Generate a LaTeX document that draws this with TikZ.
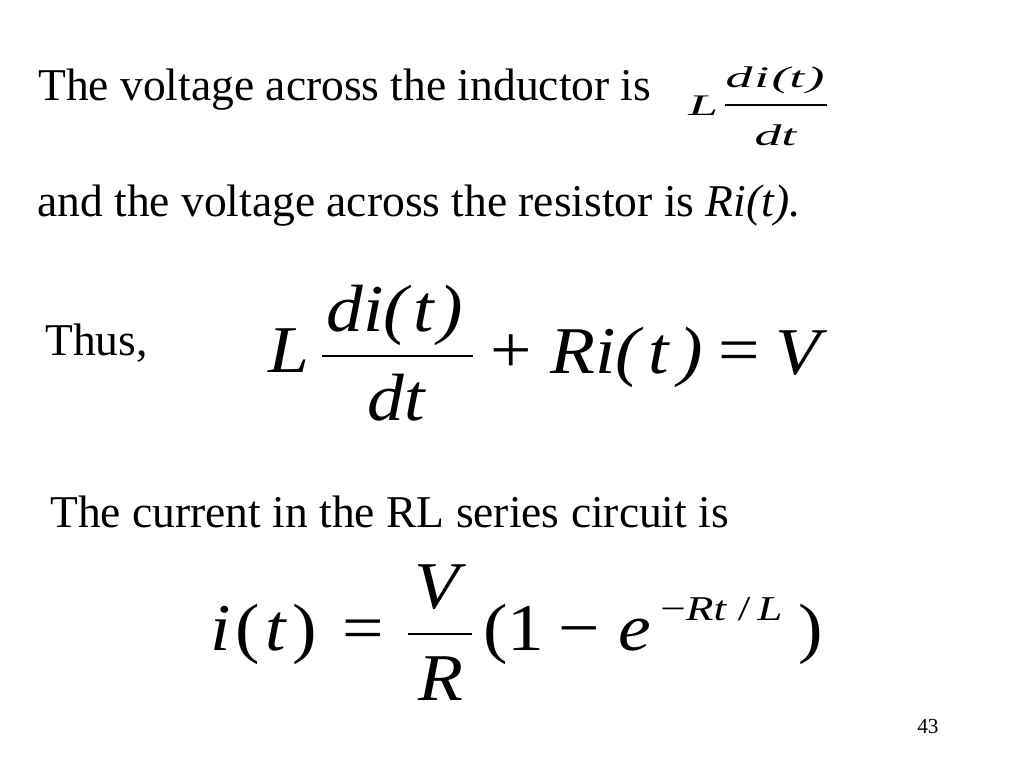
\documentclass[tikz,border=0pt]{standalone}
\usepackage{fontspec}
\setmainfont{Liberation Serif}
\usepackage{graphicx}
\newcommand{\smalleq}[1]{\scalebox{1.8}[1]{#1}}
\newcommand{\bigeq}[1]{\scalebox{1.1}[1]{#1}}
\newcommand{\supeq}[1]{\scalebox{1.3}[1]{#1}}

\begin{document}
\begin{tikzpicture}[x=0.703125pt, y=-0.703125pt,
		txt/.style={anchor=base west, inner sep=0pt, font=\fontsize{32}{38}\selectfont},
		eqn/.style={anchor=base west, inner sep=0pt, font=\fontsize{47}{56}\selectfont},
		eqsup/.style={anchor=base west, inner sep=0pt, font=\fontsize{24.5}{30}\selectfont},
		eqsmall/.style={inner sep=0pt, font=\fontsize{21}{25}\selectfont},
		fracbar/.style={line width=2pt}]
			%%%%% START %%%%%
			
			\fill[white] (0, 0) rectangle (1024, 768);
			\useasboundingbox (0, 0) rectangle (1024, 768);
			
			\node[txt] (line1) at (38, 101) {The voltage across the inductor is};
			
			\node[eqsmall, anchor=base west] (sL) at (688, 116) {\smalleq{\textit{L}}};
			\node[eqsmall, anchor=base] (sdi) at (775, 88) {\smalleq{\textit{d\hspace{0.04em}i\hspace{0.04em}(t\hspace{0.04em})}}};
			\draw[line width=1pt] (725, 105) -- (827, 105);
			\node[eqsmall, anchor=base] (sdt) at (776, 146) {\smalleq{\textit{dt}}};
			
			\node[txt] (line2) at (37, 217) {and the voltage across the resistor is \textit{Ri(t).}};
			
			\node[txt] (thus) at (45, 355) {Thus,};
			
			\node[eqn] (bL) at (268, 372) {\bigeq{\textit{L}}};
			\node[eqn, anchor=base] (bdi) at (395, 332) {\bigeq{\textit{di(\hspace{0.07em}t\hspace{0.07em})}}};
			\draw[fracbar] (322, 356) -- (473, 356);
			\node[eqn, anchor=base] (bdt) at (397, 420) {\bigeq{\textit{dt}}};
			\node[eqn] (bplus) at (490, 372) {\bigeq{+}};
			\node[eqn] (bRi) at (550, 373) {\bigeq{\textit{Ri(\hspace{0.12em}t\hspace{0.12em})}}};
			\node[eqn] (beq) at (718, 372) {\bigeq{=}};
			\node[eqn] (bV) at (775, 374) {\bigeq{\textit{V}}};
			
			\node[txt] (current) at (50, 527) {The current in the RL series circuit is};
			
			\node[eqn] (ci) at (210, 650) {\bigeq{\textit{i}\hspace{0.07em}(\hspace{0.07em}\textit{t}\hspace{0.07em})}};
			\node[eqn] (ceq) at (342, 650) {\bigeq{=}};
			\node[eqn, anchor=base] (cV) at (440, 608) {\bigeq{\textit{V}}};
			\draw[fracbar] (408, 634) -- (472, 634);
			\node[eqn, anchor=base] (cR) at (441, 700) {\bigeq{\textit{R}}};
			\node[eqn] (cone) at (483, 650) {\bigeq{(1}};
			\node[eqn] (cminus) at (558, 650) {\bigeq{−}};
			\node[eqn] (ce) at (618, 650) {\bigeq{\textit{e}}};
			\node[eqsup] (cexp) at (660, 620) {\supeq{−\textit{Rt}\hspace{0.24em}/\hspace{0.15em}\textit{L}}};
			\node[eqn] (cclose) at (798, 650) {\bigeq{)}};
			
			\node[anchor=base west, inner sep=0pt, font=\fontsize{15}{18}\selectfont] (page) at (917, 733) {43};
			
			%%%%% END %%%%%
		\end{tikzpicture}
\end{document}
